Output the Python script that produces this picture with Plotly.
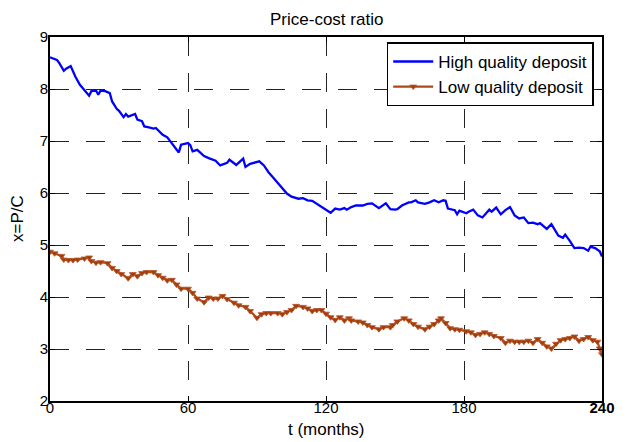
import plotly.graph_objects as go

# ---- data ----
t_high = [0, 3, 4, 6, 7, 9, 11, 13, 14, 16, 17, 18, 20, 21, 22, 24, 26, 27, 29, 30,
          32, 33, 34, 37, 38, 40, 41, 43, 45, 46, 47, 49, 51, 52, 54, 56, 57, 60, 61, 62,
          64, 67, 69, 72, 74, 77, 78, 81, 84, 85, 87, 90, 91, 93, 95, 97, 100, 103, 105, 108,
          110, 112, 114, 117, 120, 122, 124, 126, 128, 129, 131, 133, 136, 138, 140, 142, 143, 146, 148, 150,
          151, 153, 156, 157, 159, 160, 163, 165, 167, 169, 171, 172, 173, 176, 177, 178, 181, 182, 184, 186,
          188, 191, 192, 194, 196, 198, 200, 202, 204, 206, 208, 210, 212, 213, 215, 216, 218, 220, 221, 223,
          224, 226, 228, 230, 232, 234, 235, 237, 239, 240]
x_high = [8.61, 8.56, 8.50, 8.35, 8.39, 8.44, 8.24, 8.08, 8.03, 7.92, 7.87, 7.96, 7.97, 7.89, 7.97, 7.96, 7.92, 7.76, 7.62, 7.58,
          7.46, 7.52, 7.47, 7.52, 7.41, 7.38, 7.28, 7.26, 7.24, 7.25, 7.20, 7.12, 7.07, 7.01, 6.90, 6.78, 6.93, 6.96, 6.92, 6.80,
          6.83, 6.71, 6.67, 6.62, 6.53, 6.58, 6.64, 6.54, 6.66, 6.50, 6.56, 6.59, 6.61, 6.53, 6.40, 6.30, 6.14, 5.99, 5.93, 5.89,
          5.90, 5.86, 5.85, 5.76, 5.68, 5.62, 5.70, 5.68, 5.71, 5.68, 5.73, 5.76, 5.76, 5.79, 5.80, 5.74, 5.71, 5.80, 5.69, 5.68,
          5.69, 5.76, 5.82, 5.82, 5.86, 5.82, 5.79, 5.82, 5.86, 5.82, 5.86, 5.85, 5.70, 5.67, 5.59, 5.66, 5.61, 5.64, 5.68, 5.57,
          5.53, 5.68, 5.64, 5.72, 5.59, 5.67, 5.73, 5.57, 5.51, 5.53, 5.42, 5.43, 5.40, 5.42, 5.34, 5.31, 5.40, 5.25, 5.18, 5.14,
          5.20, 5.08, 4.94, 4.95, 4.94, 4.89, 4.97, 4.94, 4.88, 4.78]

t_low = [0, 2, 5, 6, 8, 10, 12, 15, 17, 18, 20, 22, 25, 27, 29, 31, 34, 36, 38, 40,
         42, 45, 47, 49, 51, 53, 55, 57, 60, 62, 64, 67, 69, 71, 73, 75, 77, 80, 82, 85,
         87, 90, 92, 94, 96, 99, 101, 103, 105, 107, 110, 112, 114, 116, 118, 120, 122, 124, 126, 128,
         130, 131, 134, 136, 138, 140, 143, 145, 148, 149, 151, 154, 156, 158, 160, 163, 165, 167, 169, 170,
         172, 174, 176, 178, 181, 183, 185, 187, 189, 191, 193, 196, 198, 200, 202, 204, 206, 208, 210, 212,
         214, 216, 218, 220, 222, 224, 226, 228, 230, 232, 234, 236, 238, 239, 240]
x_low = [4.87, 4.84, 4.79, 4.72, 4.71, 4.71, 4.72, 4.74, 4.76, 4.69, 4.66, 4.67, 4.65, 4.56, 4.50, 4.44, 4.36, 4.44, 4.40, 4.46,
         4.48, 4.48, 4.42, 4.37, 4.32, 4.33, 4.24, 4.16, 4.16, 4.08, 3.97, 3.90, 3.99, 3.97, 3.97, 4.02, 3.96, 3.89, 3.84, 3.81,
         3.73, 3.60, 3.67, 3.69, 3.69, 3.69, 3.67, 3.71, 3.75, 3.83, 3.81, 3.78, 3.73, 3.75, 3.75, 3.68, 3.61, 3.56, 3.61, 3.55,
         3.59, 3.55, 3.53, 3.51, 3.46, 3.42, 3.38, 3.42, 3.42, 3.46, 3.53, 3.59, 3.55, 3.48, 3.43, 3.38, 3.43, 3.48, 3.55, 3.59,
         3.50, 3.40, 3.38, 3.37, 3.34, 3.32, 3.27, 3.29, 3.32, 3.29, 3.25, 3.21, 3.12, 3.16, 3.14, 3.14, 3.14, 3.16, 3.12, 3.19,
         3.12, 3.05, 3.01, 3.10, 3.17, 3.19, 3.21, 3.24, 3.16, 3.19, 3.23, 3.17, 3.14, 3.01, 2.90]

x_ticks = [0, 60, 120, 180, 240]
x_ticktext = ["0", "60", "120", "180", "<b>240</b>"]
y_ticks = [2, 3, 4, 5, 6, 7, 8, 9]

FONT = "Liberation Sans, Arial, sans-serif"

fig = go.Figure()
fig.add_trace(go.Scatter(
    x=t_high, y=x_high, mode="lines", name="High quality deposit",
    line=dict(color="#0000ff", width=2.3),
))
fig.add_trace(go.Scatter(
    x=t_low, y=x_low, mode="lines+markers", name="Low quality deposit",
    line=dict(color="#b0481a", width=2.2),
    marker=dict(symbol="triangle-down", size=6, color="#a33c08",
                line=dict(color="#b8542a", width=0.8)),
))

axis_common = dict(
    showline=True, linecolor="black", linewidth=1.6, mirror="ticks",
    ticks="inside", ticklen=5, tickwidth=1, tickcolor="black",
    showgrid=True, gridcolor="#222222", gridwidth=1, griddash="19px,17px",
    zeroline=False, tickfont=dict(family=FONT, size=15, color="black"),
)

fig.update_xaxes(range=[0, 240], tickvals=x_ticks, ticktext=x_ticktext,
                 ticklabelstandoff=-8, **axis_common)
fig.update_yaxes(range=[2, 9], tickvals=y_ticks, ticklabelstandoff=-3, **axis_common)

fig.update_layout(
    width=627, height=442,
    margin=dict(l=50, r=15, t=37, b=41),
    plot_bgcolor="white", paper_bgcolor="white",
    font=dict(family=FONT, size=15, color="black"),
    showlegend=True,
    legend=dict(
        x=0.985, y=0.985, xanchor="right", yanchor="top",
        bgcolor="white", bordercolor="black", borderwidth=1.5,
        font=dict(family=FONT, size=17, color="black"),
        itemwidth=40, tracegroupgap=0,
    ),
    annotations=[
        dict(text="Price-cost ratio", xref="paper", yref="paper", x=0.5, y=1,
             yshift=18, xanchor="center", yanchor="middle", showarrow=False,
             font=dict(family=FONT, size=17, color="black")),
        dict(text="t (months)", xref="paper", yref="paper", x=0.5, y=0,
             yshift=-28, xanchor="center", yanchor="middle", showarrow=False,
             font=dict(family=FONT, size=17, color="black")),
        dict(text="x=P/C", xref="paper", yref="paper", x=0, y=0.5,
             xshift=-33, xanchor="center", yanchor="middle", showarrow=False, textangle=-90,
             font=dict(family=FONT, size=17, color="black")),
    ],
)

fig.write_html("out.html", config={"displayModeBar": False},
               post_script="document.body.style.margin='0';document.body.style.padding='0';")
